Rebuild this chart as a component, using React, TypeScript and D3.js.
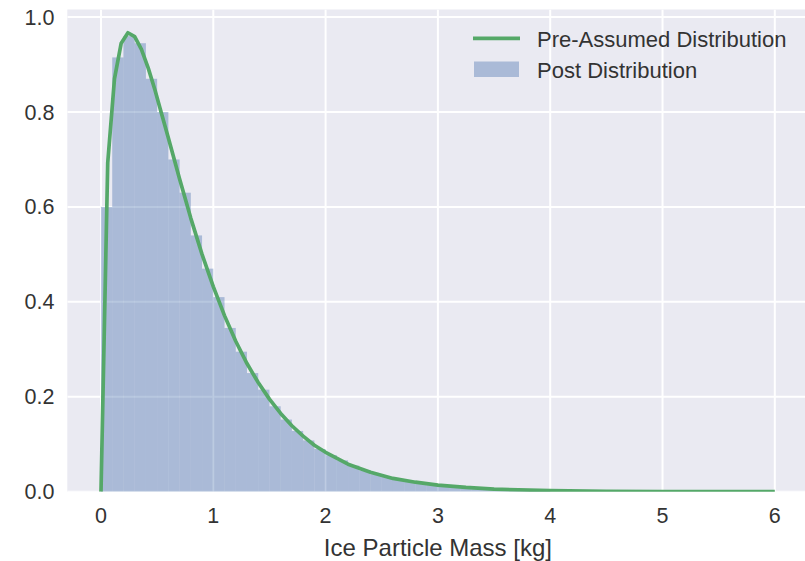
import React from "react";
import * as d3 from "d3";

// Histogram (Post Distribution): bin left edges & density heights, bin width 0.1
const binWidth = 0.1;
const binStarts = [
  0.0, 0.1, 0.2, 0.3, 0.4, 0.5, 0.6, 0.7, 0.8, 0.9,
  1.0, 1.1, 1.2, 1.3, 1.4, 1.5, 1.6, 1.7, 1.8, 1.9,
  2.0, 2.1, 2.2, 2.3, 2.4, 2.5, 2.6, 2.7, 2.8, 2.9,
  3.0, 3.1, 3.2, 3.3, 3.4, 3.5, 3.6, 3.7, 3.8, 3.9,
];
const binHeights = [
  0.6, 0.915, 0.96, 0.945, 0.87, 0.8, 0.7, 0.63, 0.54, 0.47,
  0.41, 0.345, 0.295, 0.25, 0.215, 0.18, 0.152, 0.128, 0.108, 0.09,
  0.077, 0.066, 0.055, 0.045, 0.037, 0.031, 0.026, 0.021, 0.018, 0.015,
  0.012, 0.01, 0.008, 0.007, 0.006, 0.005, 0.004, 0.003, 0.003, 0.002,
];

// Pre-Assumed Distribution curve
const curveX = [
  0, 0.06, 0.12, 0.18, 0.24, 0.3, 0.36, 0.42, 0.48, 0.54, 0.6,
  0.7, 0.8, 0.9, 1.0, 1.1, 1.2, 1.3, 1.4, 1.5, 1.6, 1.7, 1.8, 1.9, 2.0,
  2.2, 2.4, 2.6, 2.8, 3.0, 3.25, 3.5, 4.0, 4.5, 5.0, 5.5, 6.0,
];
const curveY = [
  0, 0.693, 0.87, 0.945, 0.967, 0.959, 0.932, 0.893, 0.847, 0.796, 0.745,
  0.659, 0.576, 0.5, 0.432, 0.371, 0.317, 0.27, 0.23, 0.195, 0.165, 0.139, 0.117, 0.098, 0.083,
  0.058, 0.041, 0.028, 0.02, 0.014, 0.009, 0.0054, 0.0021, 0.0008, 0.0003, 0.0001, 0.00005,
];

const xTicks = [0, 1, 2, 3, 4, 5, 6];
const yTicks = [0.0, 0.2, 0.4, 0.6, 0.8, 1.0];
const xLabel = "Ice Particle Mass [kg]";
const legendLabels = ["Pre-Assumed Distribution", "Post Distribution"];

const W = 805;
const H = 561;

export default function App() {
  const x = d3.scaleLinear().domain([-0.3, 6.3]).range([67.3, 808.5]);
  const y = d3.scaleLinear().domain([0, 1.016]).range([491.7, 9.5]);
  const [x0, x1] = x.range();
  const [yb, yt] = y.range();

  const line = d3
    .line<number>()
    .x((_, i) => x(curveX[i]))
    .y((d) => y(d));

  const font = "Arial, 'Liberation Sans', 'DejaVu Sans', sans-serif";
  const green = "#55A868";
  const blue = "#4C72B0";
  const textColor = "#333";

  return (
    <svg
      width={W}
      height={H}
      style={{ position: "fixed", left: 0, top: 0, display: "block", background: "#fff" }}
      fontFamily={font}
    >
      <defs>
        <clipPath id="plotclip">
          <rect x={x0} y={yt} width={x1 - x0} height={yb - yt} />
        </clipPath>
      </defs>
      <rect x={x0} y={yt} width={x1 - x0} height={yb - yt} fill="#EAEAF2" />
      <g clipPath="url(#plotclip)">
        {xTicks.map((t) => (
          <line key={"gx" + t} x1={x(t)} x2={x(t)} y1={yt} y2={yb} stroke="#fff" strokeWidth={2} />
        ))}
        {yTicks.map((t) => (
          <line key={"gy" + t} x1={x0} x2={x1} y1={y(t)} y2={y(t)} stroke="#fff" strokeWidth={2} />
        ))}
        {binStarts.map((b, i) => (
          <rect
            key={"b" + i}
            x={x(b)}
            y={y(binHeights[i])}
            width={x(b + binWidth) - x(b)}
            height={y(0) - y(binHeights[i])}
            fill={blue}
            fillOpacity={0.4}
          />
        ))}
        <path
          d={line(curveY) || ""}
          fill="none"
          stroke={green}
          strokeWidth={3.7}
          strokeLinejoin="round"
          strokeLinecap="butt"
        />
      </g>
      {xTicks.map((t) => (
        <text key={"tx" + t} x={x(t)} y={523} textAnchor="middle" fontSize={21.5} fill={textColor}>
          {t}
        </text>
      ))}
      {yTicks.map((t) => (
        <text key={"ty" + t} x={54.5} y={y(t) + 7.5} textAnchor="end" fontSize={21.5} fill={textColor}>
          {t.toFixed(1)}
        </text>
      ))}
      <text x={(x(0) + x(6)) / 2} y={555.5} textAnchor="middle" fontSize={24} fill={textColor}>
        {xLabel}
      </text>
      <g>
        <line x1={473} x2={520} y1={38.3} y2={38.3} stroke={green} strokeWidth={3.7} />
        <text x={537} y={46.7} fontSize={22} fill={textColor}>
          {legendLabels[0]}
        </text>
        <rect x={474} y={61.5} width={45} height={15.5} fill={blue} fillOpacity={0.4} />
        <text x={537} y={77.5} fontSize={22} fill={textColor}>
          {legendLabels[1]}
        </text>
      </g>
    </svg>
  );
}
